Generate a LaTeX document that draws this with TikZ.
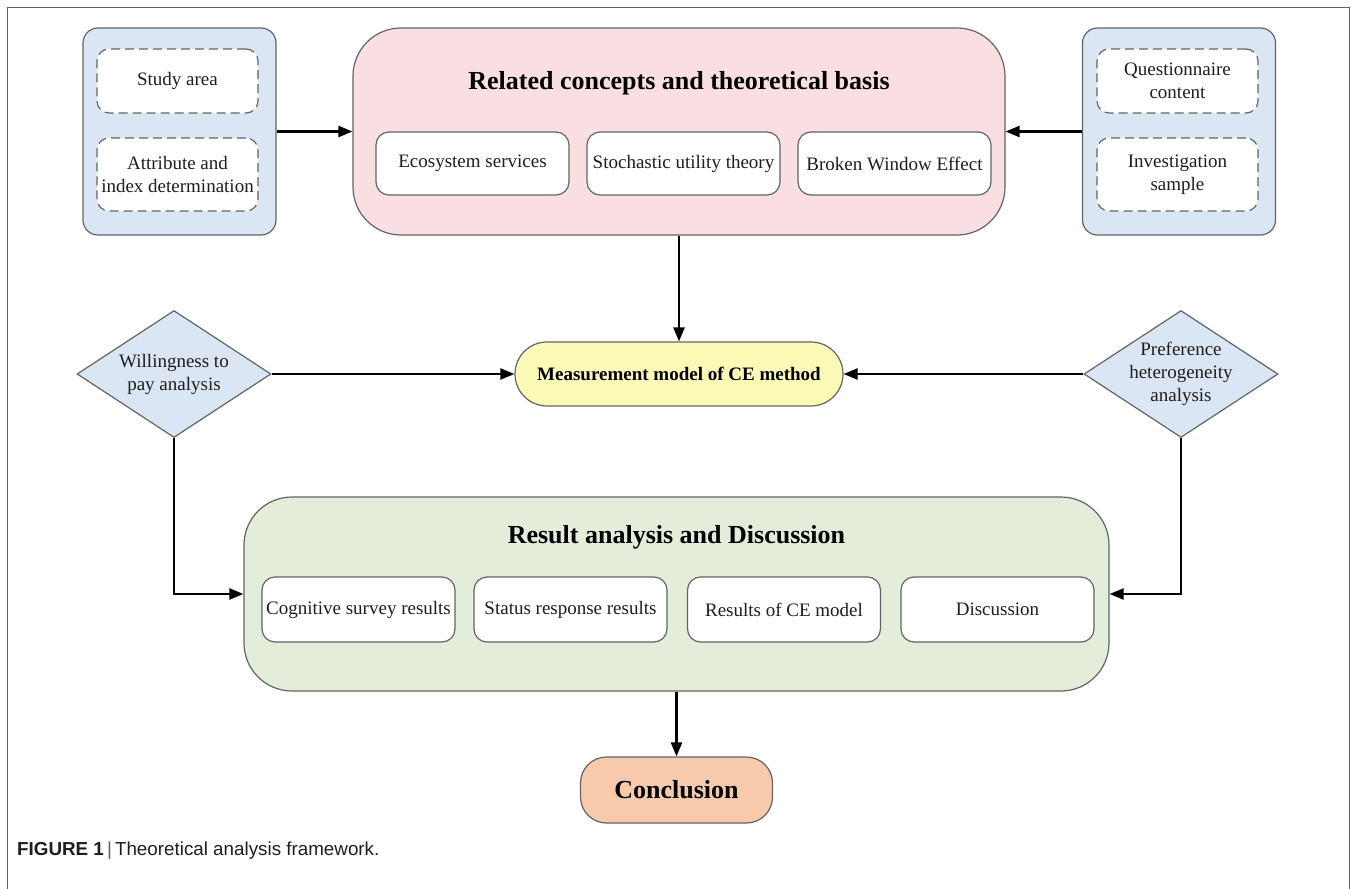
\documentclass[tikz,border=0pt]{standalone}
\usepackage{fontspec}
\setmainfont{Liberation Serif}
\newfontfamily\capfont{Liberation Sans}
\usetikzlibrary{shapes.geometric,arrows.meta}
\definecolor{bluef}{RGB}{218,230,243}
\definecolor{pinkf}{RGB}{249,222,228}
\definecolor{greenf}{RGB}{227,237,217}
\definecolor{yellowf}{RGB}{250,250,182}
\definecolor{orangef}{RGB}{247,202,172}
\definecolor{bordc}{RGB}{100,100,100}
\definecolor{framec}{RGB}{95,95,95}
\definecolor{txtc}{RGB}{30,30,30}
\newcommand\diagnorm{\fontsize{19}{23}\selectfont}
\newcommand\diagtitle{\fontsize{26}{30}\selectfont\bfseries}
\begin{document}
\begin{tikzpicture}[x=1pt,y=-1pt,
  bdr/.style={draw=bordc, line width=1.2pt},
  panel/.style={bdr, fill=bluef, rounded corners=15pt, inner sep=0pt, minimum width=193pt, minimum height=207pt},
  bigbox/.style={bdr, rounded corners=48pt, inner sep=0pt},
  dbox/.style={draw=bordc, line width=1.2pt, dash pattern=on 9pt off 5pt, rounded corners=12pt, fill=white, minimum width=161pt, inner sep=0pt, align=center, font=\diagnorm, text=txtc},
  wbox/.style={bdr, fill=white, rounded corners=13pt, minimum width=193pt, inner sep=0pt, align=center, font=\diagnorm, text=txtc},
  dia/.style={bdr, fill=bluef, diamond, minimum width=194pt, minimum height=127pt, inner sep=0pt},
  dlabel/.style={align=center, font=\diagnorm, text=txtc, inner sep=0pt},
  ttl/.style={font=\diagtitle, text=black, inner sep=0pt},
  arr/.style={line width=2.3pt, draw=black, -{Triangle[length=14pt,width=11pt]}}
]
\useasboundingbox (0,0) rectangle (1358,889);
\fill[white] (0,0) rectangle (1358,889);
% frame
\draw[framec, line width=1pt] (7,889) -- (7,7) -- (1349,7) -- (1349,889);

% left panel
\node[panel] (lp) at (179.5,131.5) {};
\node[dbox, minimum height=64pt] (la) at (177.5,81) {Study area};
\node[dbox, minimum height=73pt] (lb) at (177.5,174.5) {Attribute and\\index determination};

% right panel
\node[panel] (rp) at (1179,131.5) {};
\node[dbox, minimum height=64pt] (ra) at (1177.5,81) {Questionnaire\\content};
\node[dbox, minimum height=73pt] (rb) at (1177.5,174.5) {Investigation\\sample};

% pink box
\node[bigbox, fill=pinkf, minimum width=652pt, minimum height=207pt] (pink) at (679,131.5) {};
\node[ttl] (pt) at (679,83) {Related concepts and theoretical basis};
\node[wbox, minimum height=63pt] (e1) at (472.5,163.5) {Ecosystem services};
\node[wbox, minimum height=63pt] (e2) at (683.5,163.5) {Stochastic utility theory};
\node[wbox, minimum height=63pt] (e3) at (894.5,163.5) {Broken Window Effect};

% measurement
\node[bdr, fill=yellowf, rounded corners=32pt, minimum width=328pt, minimum height=64pt, inner sep=0pt,
      font=\fontsize{19}{23}\selectfont\bfseries, text=black] (meas) at (679,374) {Measurement model of CE method};

% diamonds
\node[dia] (ld) at (174,374) {};
\node[dlabel] (ldt) at (174,374) {Willingness to\\pay analysis};
\node[dia] (rd) at (1181,374) {};
\node[dlabel] (rdt) at (1181,374) {Preference\\heterogeneity\\analysis};

% green box
\node[bigbox, fill=greenf, minimum width=865pt, minimum height=194pt] (green) at (676.5,594) {};
\node[ttl] (gt) at (676.5,537) {Result analysis and Discussion};
\node[wbox, minimum height=65pt] (g1) at (358.5,609.5) {Cognitive survey results};
\node[wbox, minimum height=65pt] (g2) at (570.5,609.5) {Status response results};
\node[wbox, minimum height=65pt] (g3) at (784,609.5) {Results of CE model};
\node[wbox, minimum height=65pt] (g4) at (997.5,609.5) {Discussion};

% conclusion
\node[bdr, fill=orangef, rounded corners=26pt, minimum width=192pt, minimum height=66pt, inner sep=0pt,
      font=\diagtitle, text=black] (concl) at (676.5,790) {Conclusion};

% arrows
\draw[arr] (lp.east) -- (pink.west);
\draw[arr] (rp.west) -- (pink.east);
\draw[arr] (pink.south) -- (meas.north);
\draw[arr] (ld.east) -- (meas.west);
\draw[arr] (rd.west) -- (meas.east);
\draw[arr] (ld.south) |- (green.west);
\draw[arr] (rd.south) |- (green.east);
\draw[arr] (green.south) -- (concl.north);

% caption
\node[anchor=west, inner sep=0pt, font=\capfont\fontsize{18.8}{21}\selectfont, text=txtc] (cap) at (17,851)
  {\textbf{FIGURE 1}\,\textcolor{framec}{|}\,Theoretical analysis framework.};
\end{tikzpicture}
\end{document}
